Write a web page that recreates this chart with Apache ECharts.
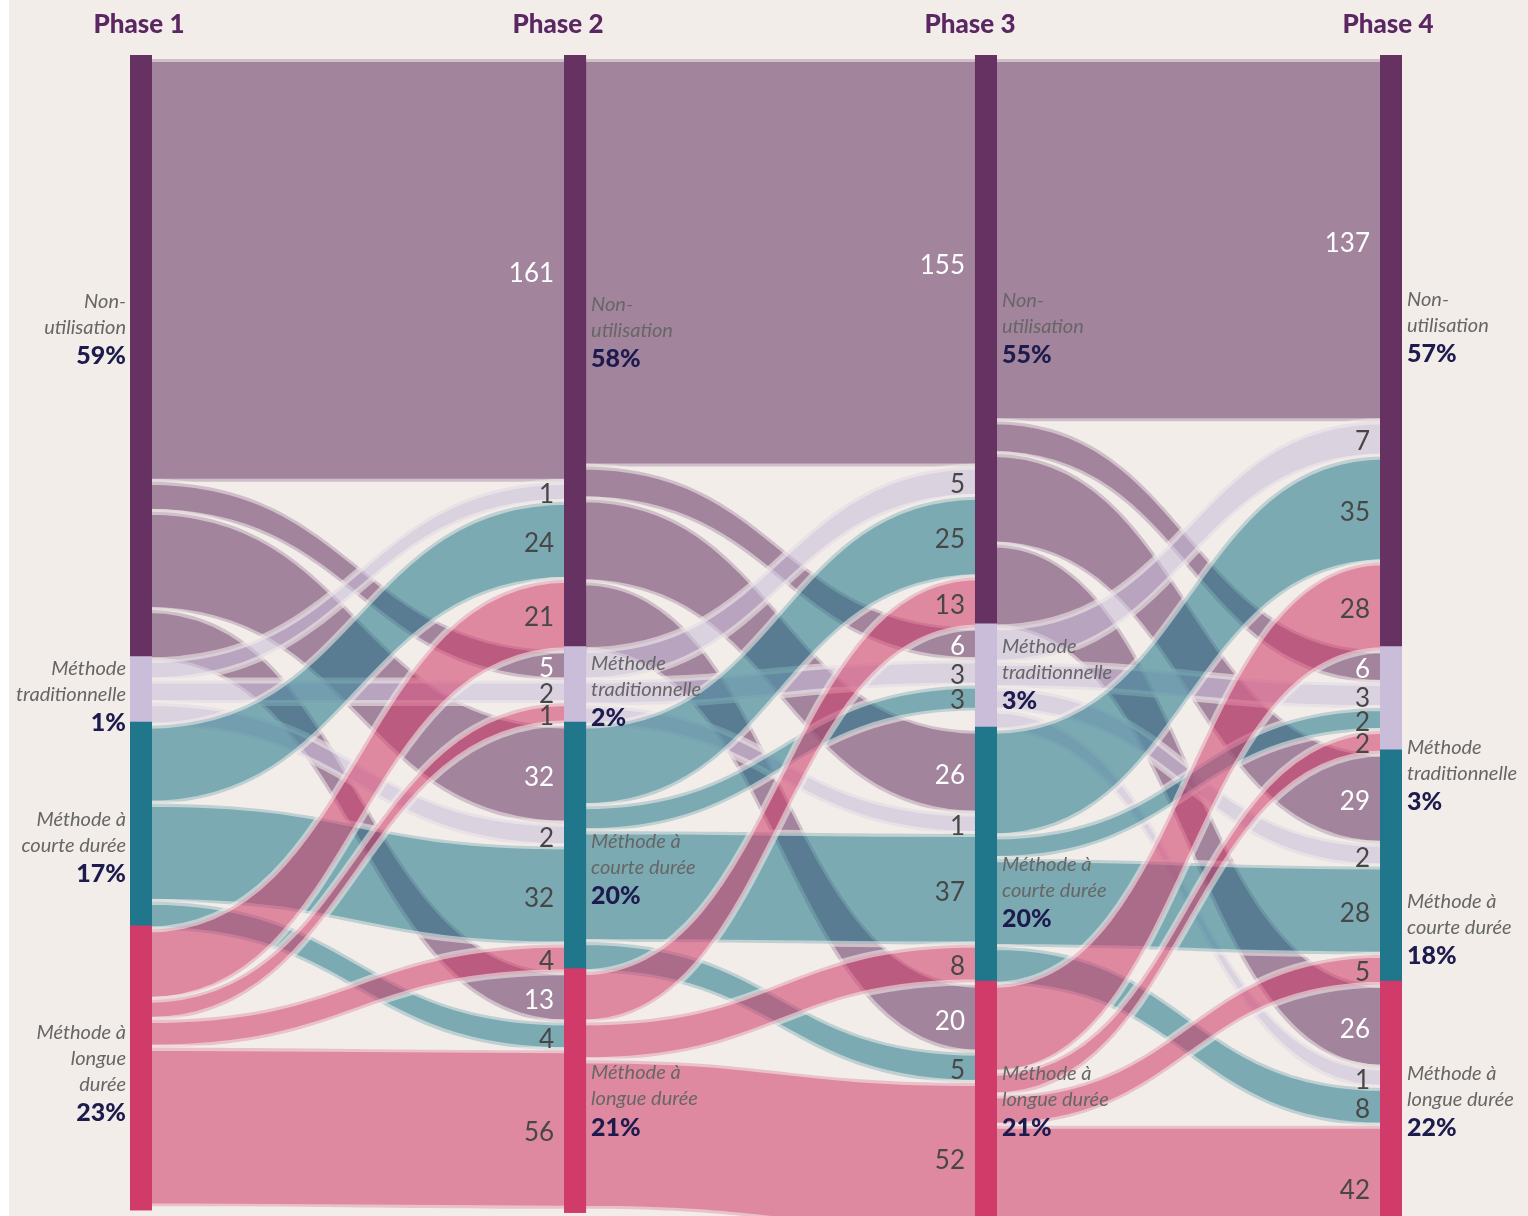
<!DOCTYPE html>
<html>
<head>
<meta charset="utf-8">
<script src="https://cdn.jsdelivr.net/npm/echarts@6/dist/echarts.min.js"></script>
<style>
  html, body { margin: 0; padding: 0; background: #ffffff; }
  #main { position: absolute; left: 9px; top: 0; width: 1519px; height: 1216px; background: #f2ede9; }
</style>
</head>
<body>
<div id="main"></div>
<script>
// données
var phases = ['Phase 1', 'Phase 2', 'Phase 3', 'Phase 4'];
var categories = ['Non-utilisation', 'Méthode traditionnelle', 'Méthode à courte durée', 'Méthode à longue durée'];

var shares1 = ['59%', '1%', '17%', '23%'];
var shares2 = ['58%', '2%', '20%', '21%'];
var shares3 = ['55%', '3%', '20%', '21%'];
var shares4 = ['57%', '3%', '18%', '22%'];

// libellés des noeuds (retours à la ligne)
var namesFirst = ['Non-\nutilisation', 'Méthode\ntraditionnelle', 'Méthode à\ncourte durée', 'Méthode à\nlongue\ndurée'];
var namesOther = ['Non-\nutilisation', 'Méthode\ntraditionnelle', 'Méthode à\ncourte durée', 'Méthode à\nlongue durée'];

// flux : ligne = catégorie de départ, colonne = catégorie d'arrivée
var flows12 = [
  [161, 5, 32, 13],
  [1, 2, 2, null],
  [24, null, 32, 4],
  [21, 1, 4, 56]
];
var flows23 = [
  [155, 6, 26, 20],
  [5, 3, 1, null],
  [25, 3, 37, 5],
  [13, null, 8, 52]
];
var flows34 = [
  [137, 6, 29, 26],
  [7, 3, 2, 1],
  [35, 2, 28, 8],
  [28, 2, 5, 42]
];

var BG = '#f2ede9';
var PAD = 7; // épaisseur minimale ajoutée à chaque bande, comme dans l'original
var nodeColors = ['#653262', '#c9bdd9', '#20768a', '#d03b6a'];
var colX = [null, 0.3434, 0.6685, null];
var headerX = [130, 549, 961, 1379];
// décalage vertical des libellés de noeuds [colonne][catégorie]
var labelShift = [
  [-30, 4, 20, 6],
  [-22, 4, 21, 11],
  [-14, -4, 35, -15],
  [-27, 74, 61, -15]
];

var chart = echarts.init(document.getElementById('main'));

var allShares = [shares1, shares2, shares3, shares4];
function buildNodes(withLabels) {
  var out = [];
  phases.forEach(function (ph, c) {
    categories.forEach(function (cat, k) {
      var names = c === 0 ? namesFirst : namesOther;
      var side = c === 0 ? 'right' : 'left';
      var txt = names[k].split('\n').map(function (s) { return '{n|' + s + '}'; }).join('\n') +
        '\n{p|' + allShares[c][k] + '}';
      var item = {
        name: 'P' + (c + 1) + ' ' + cat,
        depth: c,
        itemStyle: { color: nodeColors[k], borderColor: nodeColors[k], borderWidth: 8 },
        label: {
          show: withLabels,
          position: c === 0 ? 'left' : 'right',
          distance: c === 0 ? 4 : 5,
          offset: [0, labelShift[c][k]],
          align: side,
          formatter: txt,
          rich: {
            n: { fontFamily: 'Lato', fontStyle: 'italic', fontSize: 20, color: '#666666', lineHeight: 26, align: side },
            p: { fontFamily: 'Lato', fontWeight: 900, fontSize: 25, color: '#1d1b4e', lineHeight: 31, align: side }
          }
        }
      };
      if (colX[c] != null) item.localX = colX[c];
      out.push(item);
    });
  });
  return out;
}

function buildLinks(visible) {
  var out = [];
  [flows12, flows23, flows34].forEach(function (m, c) {
    m.forEach(function (row, i) {
      row.forEach(function (v, j) {
        if (v == null) return;
        out.push({
          source: 'P' + (c + 1) + ' ' + categories[i],
          target: 'P' + (c + 2) + ' ' + categories[j],
          value: v + PAD,
          realValue: v,
          sourceCat: i,
          lineStyle: visible
            ? { color: nodeColors[i], opacity: 0.56, borderColor: BG, borderWidth: 6 }
            : { opacity: 0, borderWidth: 0 }
        });
      });
    });
  });
  return out;
}

var common = {
  type: 'sankey',
  left: 125, right: 130, top: 59, bottom: -33,
  nodeWidth: 14,
  nodeGap: 0,
  layoutIterations: 0,
  draggable: false,
  silent: true,
  emphasis: { disabled: true },
  lineStyle: { curveness: 0.5 }
};

var option = {
  backgroundColor: BG,
  animation: false,
  series: [
    Object.assign({}, common, { z: 2, data: buildNodes(false), links: buildLinks(true) }),
    Object.assign({}, common, { z: 3, data: buildNodes(true), links: buildLinks(false) })
  ]
};
chart.setOption(option);

// textes : en-têtes et valeurs des flux au bout de chaque bande
var graphics = [];
phases.forEach(function (ph, c) {
  graphics.push({
    type: 'text', x: headerX[c], y: 25, z: 10,
    style: { text: ph, fontFamily: 'Lato', fontWeight: 900, fontSize: 26, fill: '#5b2762', align: 'center', verticalAlign: 'middle' }
  });
});
var series = chart.getModel().getSeriesByIndex(0);
var rect = series.layoutInfo || { x: 125, y: 59, width: 1264 };
series.getGraph().eachEdge(function (edge) {
  var n2 = edge.node2, l2 = n2.getLayout(), el = edge.getLayout();
  var em = edge.getModel();
  var lx = n2.getModel().get('localX');
  var x = rect.x + (lx != null ? lx * rect.width : l2.x) - 14;
  var y = rect.y + l2.y + el.ty + el.dy / 2;
  graphics.push({
    type: 'text', x: x, y: y + 3, z: 10,
    style: {
      text: String(em.get('realValue')),
      fontFamily: 'Lato', fontSize: 26,
      fill: em.get('sourceCat') === 0 ? '#ffffff' : '#474747',
      align: 'right', verticalAlign: 'middle'
    }
  });
});
chart.setOption({ graphic: graphics });
</script>
</body>
</html>
